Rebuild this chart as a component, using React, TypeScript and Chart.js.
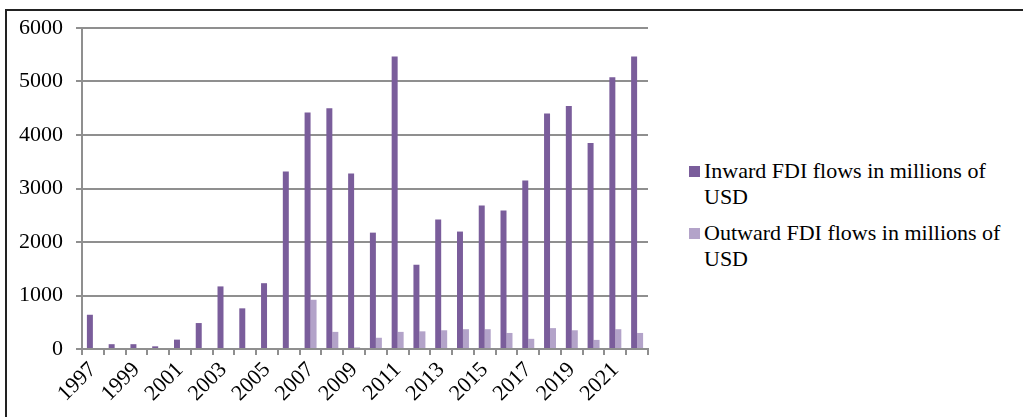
import React, { useEffect, useRef } from "react";
import { Chart, registerables } from "chart.js";

Chart.register(...registerables);

const years: string[] = [
  "1997", "1998", "1999", "2000", "2001", "2002", "2003", "2004", "2005", "2006",
  "2007", "2008", "2009", "2010", "2011", "2012", "2013", "2014", "2015", "2016",
  "2017", "2018", "2019", "2020", "2021", "2022",
];

const inwardFDI: number[] = [
  640, 90, 90, 50, 175, 485, 1170, 760, 1230, 3320,
  4420, 4500, 3280, 2175, 5465, 1575, 2420, 2195, 2680, 2590,
  3150, 4400, 4540, 3850, 5080, 5465,
];

const outwardFDI: number[] = [
  0, 0, 0, 0, 0, 0, 0, 0, 0, 0,
  920, 320, 30, 210, 320, 330, 350, 370, 370, 300,
  190, 390, 350, 170, 370, 300,
];

const yTickLabels: string[] = ["0", "1000", "2000", "3000", "4000", "5000", "6000"];

const seriesNames: string[] = [
  "Inward FDI flows in millions of USD",
  "Outward FDI flows in millions of USD",
];

const seriesColors: string[] = ["#7a5d9b", "#b3a3c9"];

const FONT = "'Liberation Serif', 'Times New Roman', serif";
const GRID = "#8f8f8f";

export default function App() {
  const canvasRef = useRef<HTMLCanvasElement | null>(null);

  useEffect(() => {
    if (!canvasRef.current) return;
    const chart = new Chart(canvasRef.current, {
      type: "bar",
      data: {
        labels: years,
        datasets: [
          {
            label: seriesNames[0],
            data: inwardFDI,
            backgroundColor: seriesColors[0],
            categoryPercentage: 0.55,
            barPercentage: 1.0,
          },
          {
            label: seriesNames[1],
            data: outwardFDI,
            backgroundColor: seriesColors[1],
            categoryPercentage: 0.55,
            barPercentage: 1.0,
          },
        ],
      },
      options: {
        animation: false,
        responsive: false,
        maintainAspectRatio: false,
        layout: { padding: { left: 0, right: 12, top: 28, bottom: 0 } },
        plugins: {
          legend: { display: false },
          tooltip: { enabled: false },
          title: { display: false },
        },
        scales: {
          x: {
            offset: true,
            grid: {
              display: true,
              offset: true,
              drawOnChartArea: false,
              drawTicks: true,
              tickLength: 6,
              color: GRID,
              lineWidth: 2,
            },
            border: { display: true, color: GRID, width: 2 },
            ticks: {
              autoSkip: false,
              minRotation: 45,
              maxRotation: 45,
              padding: 2,
              color: "#000",
              font: { family: FONT, size: 22 },
              callback: (_v: any, i: number) => (i % 2 === 0 ? years[i] : ""),
            },
            afterFit: (scale: any) => {
              scale.height = 68;
            },
          },
          y: {
            min: 0,
            max: 6000,
            ticks: {
              stepSize: 1000,
              padding: 13,
              color: "#000",
              font: { family: FONT, size: 22 },
              callback: (_v: any, i: number) => yTickLabels[i],
            },
            grid: {
              color: GRID,
              lineWidth: 2,
              tickLength: 6,
              drawTicks: true,
            },
            border: { display: true, color: GRID, width: 2 },
            afterFit: (scale: any) => {
              scale.width = 82;
            },
          },
        },
      },
    });
    return () => chart.destroy();
  }, []);

  return (
    <div
      style={{
        position: "fixed",
        left: 0,
        top: 0,
        width: 1023,
        height: 417,
        overflow: "hidden",
        background: "#fff",
      }}
    >
      <div
        style={{
          position: "absolute",
          left: 5,
          top: 9,
          width: 1200,
          height: 600,
          border: "2px solid #222",
        }}
      />
      <canvas
        ref={canvasRef}
        width={660}
        height={417}
        style={{ position: "absolute", left: 0, top: 0, width: 660, height: 417 }}
      />
      <div
        style={{
          position: "absolute",
          left: 689,
          top: 158,
          width: 330,
          fontFamily: FONT,
          fontSize: 22,
          lineHeight: "26px",
          color: "#000",
        }}
      >
        {seriesNames.map((name, i) => (
          <div key={name} style={{ display: "flex", marginBottom: i === 0 ? 10 : 0 }}>
            <div
              style={{
                width: 11,
                height: 11,
                background: seriesColors[i],
                marginTop: 8,
                marginRight: 4,
                flex: "none",
              }}
            />
            <div style={{ width: 312 }}>{name}</div>
          </div>
        ))}
      </div>
    </div>
  );
}
